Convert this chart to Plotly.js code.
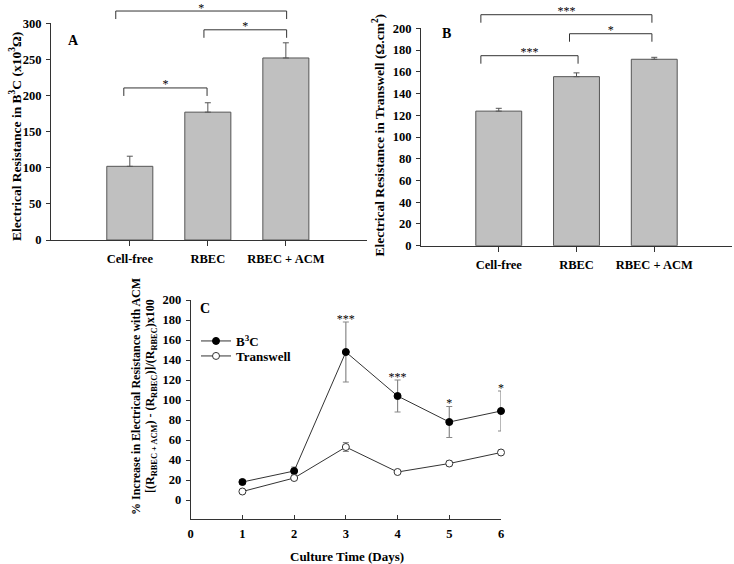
<!DOCTYPE html>
<html>
<head>
<meta charset="utf-8">
<script src="https://cdn.plot.ly/plotly-3.0.1.min.js"></script>
<style>html,body{margin:0;padding:0;background:#fff;}#chart{width:734px;height:564px;}</style>
</head>
<body>
<div id="chart"></div>
<script>
// ---------- DATA ----------
var categories = ['Cell-free', 'RBEC', 'RBEC + ACM'];
var resistanceB3C = [102, 177, 252];
var resistanceB3CErr = [14, 13, 21];
var resistanceTranswell = [123.8, 155.5, 171.5];
var resistanceTranswellErr = [2.6, 3.5, 1.8];

var sigA_from = [0, 1, 0];
var sigA_to = [1, 2, 2];
var sigA_level = [210.5, 291, 317];
var sigA_label = ['*', '*', '*'];

var sigB_from = [0, 1, 0];
var sigB_to = [1, 2, 2];
var sigB_level = [174.8, 195, 212.5];
var sigB_label = ['***', '*', '***'];

var days = [1, 2, 3, 4, 5, 6];
var increaseB3C = [18, 29, 148, 104, 78, 89];
var increaseB3CErr = [2, 4, 30, 16, 15.5, 20];
var increaseTranswell = [8.5, 22, 53, 28, 36.5, 47.5];
var increaseTranswellErr = [1.5, 2, 4.5, 1.5, 2.5, 2.5];
var sigC_label = ['', '', '***', '***', '*', '*'];

// ---------- STYLE / LAYOUT ----------
var W = 734, H = 564;
var FONT = 'Liberation Serif, Times New Roman, serif';
var AXC = '#333333';
function px(x) { return x / W; }
function py(y) { return 1 - y / H; }

var domA = {x: [px(51), px(367)], y: [py(240), py(23.3)], xr: [-1.01, 3.04], yr: [0, 300]};
var domB = {x: [px(421), px(732)], y: [py(245.7), py(28.3)], xr: [-1, 3], yr: [0, 200]};
var domC = {x: [px(190.7), px(501)], y: [py(519), py(300)], xr: [0, 6], yr: [-19, 200]};

function pxToData(dom, pixels) {
  var lenPx = (dom.y[1] - dom.y[0]) * H;
  return pixels * (dom.yr[1] - dom.yr[0]) / lenPx;
}
// an invisible y axis with the same scale as the panel's, extended to the top of the page
function extendedAxis(dom) {
  var f = (1 - dom.y[0]) / (dom.y[1] - dom.y[0]);
  return {domain: [dom.y[0], 1], range: [dom.yr[0], dom.yr[0] + (dom.yr[1] - dom.yr[0]) * f],
    visible: false, fixedrange: true};
}

var legLeftA = [-0.077, -0.05, -0.18], legRightA = [-0.01, 0.01, 0.01];
var legLeftB = [-0.23, -0.09, -0.23], legRightB = [0.02, -0.03, -0.03];

var traces = [];

function barTrace(vals, errs, xa, ya) {
  return {
    type: 'bar', x: [0, 1, 2], y: vals, width: 0.59,
    xaxis: xa, yaxis: ya, showlegend: false, hoverinfo: 'skip',
    marker: {color: '#c0c0c0', line: {color: '#555555', width: 1}},
    error_y: {type: 'data', symmetric: false, array: errs, arrayminus: errs.map(function () { return 0; }),
      color: '#555555', thickness: 1, width: 3}
  };
}
traces.push(barTrace(resistanceB3C, resistanceB3CErr, 'x', 'y'));
traces.push(barTrace(resistanceTranswell, resistanceTranswellErr, 'x2', 'y2'));

function brackets(from, to, level, labels, legL, legR, dom, xa, ya) {
  var drop = pxToData(dom, 8);
  var starShift = pxToData(dom, 2.5);
  var sx = [], sy = [];
  for (var i = 0; i < from.length; i++) {
    var l = from[i] + legL[i], r = to[i] + legR[i];
    traces.push({
      type: 'scatter', mode: 'lines', x: [l, l, r, r],
      y: [level[i] - drop, level[i], level[i], level[i] - drop],
      xaxis: xa, yaxis: ya, cliponaxis: false, showlegend: false, hoverinfo: 'skip',
      line: {color: AXC, width: 1}
    });
    sx.push((l + r) / 2);
    sy.push(level[i] + starShift);
  }
  traces.push({
    type: 'scatter', mode: 'text', x: sx, y: sy, text: labels,
    textposition: 'middle center', textfont: {family: FONT, size: 12, color: '#000'},
    xaxis: xa, yaxis: ya, cliponaxis: false, showlegend: false, hoverinfo: 'skip'
  });
}
brackets(sigA_from, sigA_to, sigA_level, sigA_label, legLeftA, legRightA, domA, 'x', 'y4');
brackets(sigB_from, sigB_to, sigB_level, sigB_label, legLeftB, legRightB, domB, 'x2', 'y5');

traces.push({
  type: 'scatter', mode: 'lines+markers', name: 'B<sup>3</sup>C', legend: 'legend',
  x: days, y: increaseB3C, xaxis: 'x3', yaxis: 'y3', cliponaxis: false,
  line: {color: AXC, width: 1},
  marker: {color: '#000000', size: 7, line: {color: '#000000', width: 1}},
  error_y: {type: 'data', array: increaseB3CErr, color: '#888888', thickness: 1.2, width: 3}
});
traces.push({
  type: 'scatter', mode: 'lines+markers', name: 'Transwell', legend: 'legend2',
  x: days, y: increaseTranswell, xaxis: 'x3', yaxis: 'y3', cliponaxis: false,
  line: {color: AXC, width: 1},
  marker: {color: '#ffffff', size: 7, line: {color: '#333333', width: 1}},
  error_y: {type: 'data', array: increaseTranswellErr, color: '#888888', thickness: 1.2, width: 3}
});
var starX = [], starY = [], starT = [];
sigC_label.forEach(function (t, i) {
  if (t) {
    starX.push(days[i]);
    starY.push(increaseB3C[i] + increaseB3CErr[i] + pxToData(domC, 2.5));
    starT.push(t);
  }
});
traces.push({
  type: 'scatter', mode: 'text', showlegend: false, hoverinfo: 'skip',
  x: starX, y: starY, text: starT, textposition: 'middle center',
  textfont: {family: FONT, size: 12, color: '#000'},
  xaxis: 'x3', yaxis: 'y3', cliponaxis: false
});

var tickFont = {family: FONT, size: 12.5, color: '#000', weight: 'bold'};
function xcat(dom, anchor) {
  return {domain: dom.x, range: dom.xr, anchor: anchor, tickvals: [0, 1, 2], ticktext: categories,
    showline: true, linecolor: AXC, linewidth: 1, ticks: 'outside', ticklen: 5, tickcolor: AXC,
    showgrid: false, zeroline: false, tickfont: tickFont, ticklabelstandoff: 2, fixedrange: true};
}
function yax(dom, anchor, dtick) {
  return {domain: dom.y, range: dom.yr, anchor: anchor, dtick: dtick, tick0: 0,
    showline: true, linecolor: AXC, linewidth: 1, ticks: 'outside', ticklen: 4, tickcolor: AXC,
    showgrid: false, zeroline: false, tickfont: tickFont, ticklabelstandoff: 2, fixedrange: true};
}

var titleFont = {family: FONT, size: 13.5, color: '#000', weight: 'bold'};
function ann(text, x, y, font, angle) {
  return {text: text, x: x, y: y, xref: 'paper', yref: 'paper', showarrow: false,
    xanchor: 'center', yanchor: 'middle', font: font, textangle: angle || 0};
}
var legendFont = {family: FONT, size: 13, color: '#000', weight: 'bold'};
var cTitleFont = {family: FONT, size: 12, color: '#000', weight: 'bold'};

var layout = {
  width: W, height: H, autosize: false,
  margin: {l: 0, r: 0, t: 0, b: 0, pad: 0},
  paper_bgcolor: '#ffffff', plot_bgcolor: 'rgba(0,0,0,0)',
  font: {family: FONT, color: '#000'},
  xaxis: xcat(domA, 'y'),
  yaxis: yax(domA, 'x', 50),
  yaxis4: Object.assign(extendedAxis(domA), {anchor: 'x'}),
  xaxis2: xcat(domB, 'y2'),
  yaxis2: yax(domB, 'x2', 20),
  yaxis5: Object.assign(extendedAxis(domB), {anchor: 'x2'}),
  xaxis3: {domain: domC.x, range: domC.xr, anchor: 'y3', dtick: 1, tick0: 0,
    showline: true, linecolor: AXC, linewidth: 1, ticks: 'inside', ticklen: 4, tickcolor: AXC,
    showgrid: false, zeroline: false, tickfont: tickFont, ticklabelstandoff: 3, fixedrange: true},
  yaxis3: {domain: domC.y, range: domC.yr, anchor: 'x3', tickvals: [0, 20, 40, 60, 80, 100, 120, 140, 160, 180, 200],
    showline: true, linecolor: AXC, linewidth: 1, ticks: 'outside', ticklen: 4, tickcolor: AXC,
    showgrid: false, zeroline: false, tickfont: tickFont, ticklabelstandoff: 2, fixedrange: true},
  showlegend: true,
  legend: {x: px(196), y: py(326), xanchor: 'left', yanchor: 'top', bgcolor: 'rgba(0,0,0,0)',
    font: legendFont, itemwidth: 30},
  legend2: {x: px(196), y: py(341), xanchor: 'left', yanchor: 'top', bgcolor: 'rgba(0,0,0,0)',
    font: legendFont, itemwidth: 30},
  annotations: [
    ann('Electrical Resistance in B<sup>3</sup>C (x10<sup>3</sup>Ω)', px(15), py(137), titleFont, -90),
    ann('Electrical Resistance in Transwell (Ω.cm<sup>2</sup>)', px(378.5), py(135), titleFont, -90),
    ann('% Increase in Electrical Resistance with ACM', px(136), py(397), cTitleFont, -90),
    ann('[(R<sub>RBEC + ACM</sub>) - (R<sub>RBEC</sub>)]/(R<sub>RBEC</sub>)x100', px(151), py(396), cTitleFont, -90),
    ann('Culture Time (Days)', px(347), py(556), {family: FONT, size: 13, color: '#000', weight: 'bold'}, 0),
    ann('A', px(73), py(41), {family: FONT, size: 14, color: '#000', weight: 'bold'}, 0),
    ann('B', px(446), py(33), {family: FONT, size: 14, color: '#000', weight: 'bold'}, 0),
    ann('C', px(205), py(308), {family: FONT, size: 14, color: '#000', weight: 'bold'}, 0)
  ]
};

Plotly.newPlot('chart', traces, layout, {staticPlot: true, displayModeBar: false});
</script>
</body>
</html>
